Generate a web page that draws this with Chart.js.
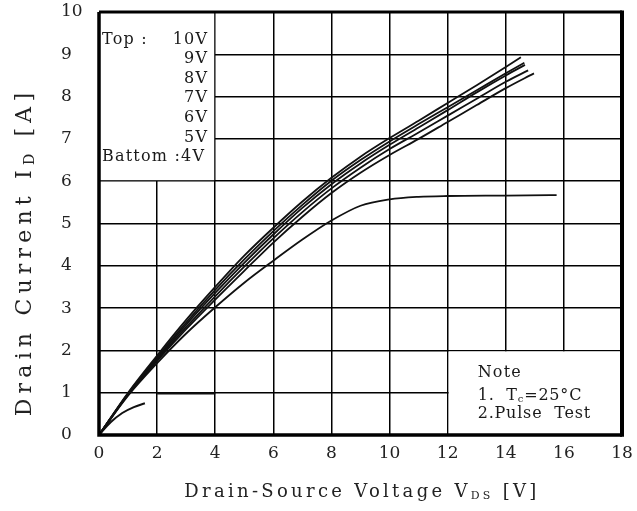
<!DOCTYPE html>
<html>
<head>
<meta charset="utf-8">
<script src="https://cdn.jsdelivr.net/npm/chart.js@4.4.1/dist/chart.umd.min.js"></script>
<style>
  html, body { margin: 0; padding: 0; background: #ffffff; }
  #wrap { width: 637px; height: 511px; }
</style>
</head>
<body>
<div id="wrap"><canvas id="c" width="637" height="511"></canvas></div>
<script>
// ---- data ----
const xTicks = [0, 2, 4, 6, 8, 10, 12, 14, 16, 18];
const yTicks = [0, 1, 2, 3, 4, 5, 6, 7, 8, 9, 10];
const seriesNames = ['10V', '9V', '8V', '7V', '6V', '5V', '4V'];

const v10x = [0, 1, 2, 3, 4, 5, 6, 7, 8, 9, 10, 11, 12, 13, 14, 14.52];
const v10y = [0, 1.0, 1.88, 2.72, 3.5, 4.24, 4.9, 5.52, 6.08, 6.58, 7.02, 7.43, 7.85, 8.27, 8.7, 8.93];
const v9x  = [0, 1, 2, 3, 4, 5, 6, 7, 8, 9, 10, 11, 12, 13, 14, 14.64];
const v9y  = [0, 0.98, 1.84, 2.66, 3.43, 4.15, 4.82, 5.44, 6.01, 6.5, 6.94, 7.35, 7.75, 8.15, 8.55, 8.8];
const v8x  = [0, 1, 2, 3, 4, 5, 6, 7, 8, 9, 10, 11, 12, 13, 14, 14.66];
const v8y  = [0, 0.97, 1.81, 2.61, 3.36, 4.07, 4.74, 5.37, 5.93, 6.42, 6.86, 7.27, 7.68, 8.1, 8.5, 8.75];
const v7x  = [0, 1, 2, 3, 4, 5, 6, 7, 8, 9, 10, 11, 12, 13, 14, 14.77];
const v7y  = [0, 0.96, 1.78, 2.55, 3.28, 3.98, 4.65, 5.27, 5.83, 6.32, 6.76, 7.15, 7.55, 7.95, 8.35, 8.62];
const v6x  = [0, 1, 2, 3, 4, 5, 6, 7, 8, 9, 10, 11, 12, 13, 14, 14.97];
const v6y  = [0, 0.95, 1.75, 2.5, 3.2, 3.88, 4.55, 5.16, 5.72, 6.2, 6.62, 7.0, 7.4, 7.8, 8.2, 8.55];
const v5x  = [0, 1, 2, 3, 4, 5, 6, 7, 8, 9, 10, 11, 12, 14, 15.75];
const v5y  = [0, 0.93, 1.7, 2.4, 3.02, 3.6, 4.12, 4.62, 5.07, 5.42, 5.57, 5.63, 5.65, 5.66, 5.67];
const v4x  = [0, 0.4, 0.8, 1.2, 1.58, 1.8, 2, 4];
const v4y  = [0, 0.3, 0.52, 0.66, 0.75, null, 0.98, 0.98];

const legendLines = ['9V', '8V', '7V', '6V', '5V'];
const noteLines = ['Note', '2.Pulse  Test'];

// ---- build datasets ----
function pts(xs, ys) { return xs.map((x, i) => ({ x: x, y: ys[i] })); }
const seriesData = [pts(v10x, v10y), pts(v9x, v9y), pts(v8x, v8y), pts(v7x, v7y),
                    pts(v6x, v6y), pts(v5x, v5y), pts(v4x, v4y)];

const SERIF = '"DejaVu Serif", "Liberation Serif", serif';
const INK = '#1a1a1a';

function drawRich(ctx, parts, x, y, size, align, spacing) {
  ctx.save();
  ctx.letterSpacing = spacing + 'px';
  let total = 0;
  parts.forEach(p => {
    ctx.font = (p.sub ? Math.round(size * 0.62) : size) + 'px ' + SERIF;
    p.w = ctx.measureText(p.t).width;
    total += p.w;
  });
  let cx = align === 'center' ? x - total / 2 : (align === 'right' ? x - total : x);
  ctx.textBaseline = 'alphabetic';
  ctx.textAlign = 'left';
  parts.forEach(p => {
    ctx.font = (p.sub ? Math.round(size * 0.62) : size) + 'px ' + SERIF;
    ctx.fillText(p.t, cx, y + (p.sub ? size * 0.12 : 0));
    cx += p.w;
  });
  ctx.restore();
}

const decor = {
  id: 'decor',
  beforeDatasetsDraw(chart) {
    const ctx = chart.ctx, xs = chart.scales.x, ys = chart.scales.y;
    ctx.save();
    ctx.fillStyle = '#ffffff';
    // legend box (top-left) and note box (bottom-right) hide the grid
    let l = xs.getPixelForValue(0), r = xs.getPixelForValue(4);
    let t = ys.getPixelForValue(10), b = ys.getPixelForValue(6);
    ctx.fillRect(l + 1, t + 1, r - l - 2, b - t - 2);
    l = xs.getPixelForValue(12); r = xs.getPixelForValue(18);
    t = ys.getPixelForValue(2); b = ys.getPixelForValue(0);
    ctx.fillRect(l + 1, t + 1, r - l - 2, b - t - 2);
    ctx.restore();
  },
  afterDraw(chart) {
    const ctx = chart.ctx, a = chart.chartArea, xs = chart.scales.x, ys = chart.scales.y;
    ctx.save();
    ctx.strokeStyle = '#000';
    ctx.lineWidth = 3.5;
    ctx.beginPath();
    ctx.moveTo(a.left, a.top); ctx.lineTo(a.left, a.bottom); ctx.lineTo(a.right, a.bottom);
    ctx.stroke();
    ctx.lineWidth = 3;
    ctx.beginPath();
    ctx.moveTo(a.left, a.top); ctx.lineTo(a.right, a.top);
    ctx.stroke();
    ctx.lineWidth = 4;
    ctx.beginPath();
    ctx.moveTo(a.right, a.top - 1.5); ctx.lineTo(a.right, a.bottom + 1.75);
    ctx.stroke();

    // legend text
    ctx.fillStyle = INK;
    ctx.font = '16px ' + SERIF;
    ctx.textBaseline = 'middle';
    ctx.letterSpacing = '1.2px';
    const lx = a.left + 3, rx = xs.getPixelForValue(4) - 7;
    ctx.textAlign = 'left';
    ctx.fillText('Top :', lx, 40);
    ctx.textAlign = 'right';
    ctx.fillText(seriesNames[0], rx, 40);
    legendLines.forEach((s, i) => ctx.fillText(s, rx, 59 + i * 19.6));
    ctx.textAlign = 'left';
    ctx.fillText('Battom :' + seriesNames[6], lx, 157);

    // note text
    const nx = xs.getPixelForValue(12) + 30;
    ctx.fillText(noteLines[0], nx, 373);
    ctx.restore();
    ctx.fillStyle = INK;
    drawRich(ctx, [{t: '1.  T'}, {t: 'c', sub: true}, {t: '=25°C'}], nx, 400, 16, 'left', 0.8);
    ctx.save();
    ctx.fillStyle = INK;
    ctx.font = '16px ' + SERIF;
    ctx.letterSpacing = '0.8px';
    ctx.textBaseline = 'middle';
    ctx.fillText(noteLines[1], nx, 414);
    ctx.restore();

    // axis titles
    ctx.fillStyle = '#222';
    drawRich(ctx, [{t: 'Drain-Source Voltage V'}, {t: 'DS', sub: true}, {t: ' [V]'}],
             362, 497, 18, 'center', 3.3);
    ctx.save();
    ctx.translate(31, 252);
    ctx.rotate(-Math.PI / 2);
    drawRich(ctx, [{t: 'Drain Current I'}, {t: 'D', sub: true}, {t: ' [A]'}], 0, 0, 22, 'center', 5.2);
    ctx.restore();
  }
};

const datasets = seriesData.map((d, i) => ({
  label: seriesNames[i],
  data: d,
  borderColor: '#111',
  backgroundColor: '#111',
  borderWidth: i === 6 ? 2 : 1.8,
  pointRadius: 0,
  fill: false,
  spanGaps: false,
  cubicInterpolationMode: 'monotone'
}));

new Chart(document.getElementById('c'), {
  type: 'line',
  data: { datasets: datasets },
  plugins: [decor],
  options: {
    responsive: false,
    devicePixelRatio: 1,
    animation: false,
    layout: { padding: { top: 12, right: 15, left: 61, bottom: 0 } },
    plugins: { legend: { display: false }, tooltip: { enabled: false } },
    scales: {
      x: {
        type: 'linear', min: 0, max: 18,
        afterBuildTicks: s => { s.ticks = xTicks.map(v => ({ value: v })); },
        afterFit: s => { s.height = 76; s.paddingLeft = 0; s.paddingRight = 0; },
        ticks: { color: '#222', padding: 8, font: { family: SERIF, size: 17 } },
        grid: { color: '#000', lineWidth: 1.5, drawTicks: false },
        border: { display: false }
      },
      y: {
        type: 'linear', min: 0, max: 10,
        afterBuildTicks: s => { s.ticks = yTicks.map(v => ({ value: v })); },
        afterFit: s => { s.width = 38; s.paddingTop = 0; s.paddingBottom = 0; },
        ticks: { color: '#222', padding: 0, crossAlign: 'far', font: { family: SERIF, size: 17 } },
        grid: { color: '#000', lineWidth: 1.5, drawTicks: false },
        border: { display: false }
      }
    }
  }
});
</script>
</body>
</html>
